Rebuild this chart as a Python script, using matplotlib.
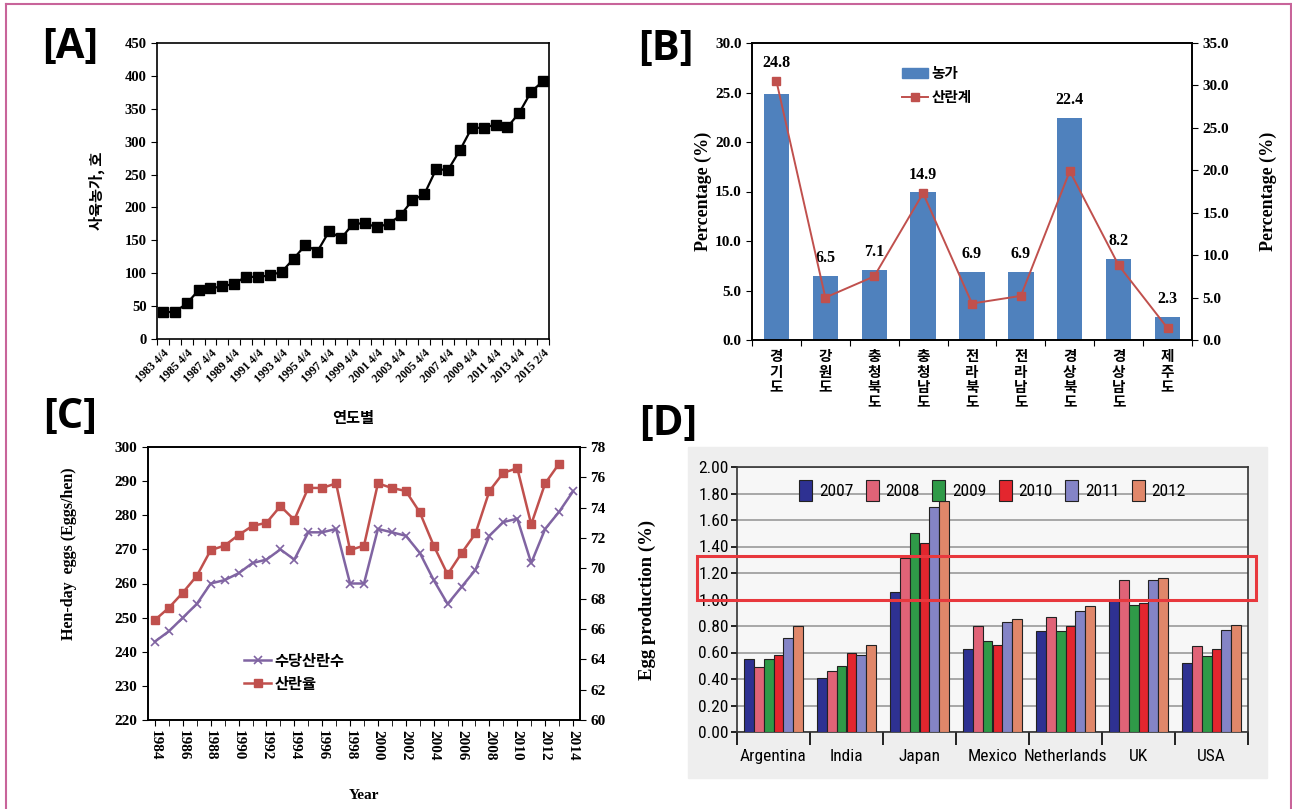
import matplotlib.pyplot as plt
import numpy as np
from matplotlib import font_manager
from matplotlib.patches import Rectangle, Patch
from matplotlib.lines import Line2D

plt.rcParams['font.family'] = ['Liberation Serif', 'Noto Sans CJK KR']
plt.rcParams['font.weight'] = 'bold'
plt.rcParams['axes.labelweight'] = 'bold'
plt.rcParams['axes.linewidth'] = 1.2

# ---- [A] number of farms by year
a_periods = [str(y) for y in range(1983, 2016)]
a_tick_labels = ['1983 4/4', '1985 4/4', '1987 4/4', '1989 4/4', '1991 4/4',
                 '1993 4/4', '1995 4/4', '1997 4/4', '1999 4/4', '2001 4/4',
                 '2003 4/4', '2005 4/4', '2007 4/4', '2009 4/4', '2011 4/4',
                 '2013 4/4', '2015 2/4']
a_farms = [41, 41, 54, 74, 77, 80, 84, 95, 94, 97, 102, 122, 143, 133, 164,
           153, 175, 176, 170, 175, 188, 211, 220, 258, 257, 287, 321, 321,
           326, 322, 344, 376, 392]

# ---- [B] share by province
b_regions = ['경기도', '강원도', '충청북도', '충청남도', '전라북도', '전라남도',
             '경상북도', '경상남도', '제주도']
b_farms_pct = [24.8, 6.5, 7.1, 14.9, 6.9, 6.9, 22.4, 8.2, 2.3]
b_hens_pct = [30.5, 5.0, 7.5, 17.3, 4.3, 5.2, 19.9, 8.8, 1.4]

# ---- [C] hen-day eggs and laying rate
c_years = list(range(1984, 2015))
c_hen_day_eggs = [243, 246, 250, 254, 260, 261, 263, 266, 267, 270, 267, 275,
                  275, 276, 260, 260, 276, 275, 274, 269, 261, 254, 259, 264,
                  274, 278, 279, 266, 276, 281, 287]
c_rate_years = list(range(1984, 2014))
c_laying_rate = [66.6, 67.4, 68.4, 69.5, 71.2, 71.5, 72.2, 72.8, 73.0, 74.1,
                 73.2, 75.3, 75.3, 75.6, 71.2, 71.5, 75.6, 75.3, 75.1, 73.7,
                 71.5, 69.6, 71.0, 72.3, 75.1, 76.3, 76.6, 72.9, 75.6, 76.9]

# ---- [D] egg production by country
d_countries = ['Argentina', 'India', 'Japan', 'Mexico', 'Netherlands', 'UK', 'USA']
d_years = ['2007', '2008', '2009', '2010', '2011', '2012']
d_2007 = [0.55, 0.41, 1.06, 0.63, 0.76, 1.00, 0.52]
d_2008 = [0.49, 0.46, 1.31, 0.80, 0.87, 1.15, 0.65]
d_2009 = [0.55, 0.50, 1.50, 0.69, 0.76, 0.96, 0.57]
d_2010 = [0.58, 0.60, 1.43, 0.66, 0.80, 0.97, 0.63]
d_2011 = [0.71, 0.58, 1.70, 0.83, 0.91, 1.15, 0.77]
d_2012 = [0.80, 0.66, 1.74, 0.85, 0.95, 1.16, 0.81]
d_colors = ['#2e3192', '#e06377', '#2f9a48', '#e3262e', '#8484c6', '#e0876a']

# narrow font for panel D, if one is around
_names = {f.name for f in font_manager.fontManager.ttflist}
narrow = next((n for n in ['Liberation Sans Narrow', 'Roboto Condensed',
                           'Open Sans Condensed', 'DejaVu Sans Condensed']
               if n in _names), 'Roboto')
cond = dict(family=[narrow, 'DejaVu Sans'], stretch='condensed', weight='normal')

W, H = 1292, 809
fig = plt.figure(figsize=(W / 100, H / 100), dpi=100)


def px_rect(x0, y0, x1, y1):
    # pixel box (top-left origin) -> figure fraction [l, b, w, h]
    return [x0 / W, 1 - y1 / H, (x1 - x0) / W, (y1 - y0) / H]


# outer pink frame
for xs, ys in [([5.5, 5.5], [4, H]), ([5.5, 1290.5], [4, 4]), ([1290.5, 1290.5], [4, H])]:
    fig.add_artist(Line2D([x / W for x in xs], [1 - y / H for y in ys],
                          color='#c8649a', lw=1.5))

label_font = dict(family=['Open Sans', 'DejaVu Sans'], fontsize=30, weight='bold')
fig.text(70 / W, 1 - 48 / H, '[A]', ha='center', va='center', **label_font)
fig.text(666 / W, 1 - 50 / H, '[B]', ha='center', va='center', **label_font)
fig.text(70 / W, 1 - 418 / H, '[C]', ha='center', va='center', **label_font)
fig.text(668 / W, 1 - 424 / H, '[D]', ha='center', va='center', **label_font)

# ================= [A]
axA = fig.add_axes(px_rect(157, 43, 549, 339))
xa = np.arange(len(a_farms))
axA.plot(xa, a_farms, color='black', lw=1.6, marker='s', ms=7)
axA.set_xlim(-0.5, len(a_farms) - 0.5)
axA.set_ylim(0, 450)
axA.set_yticks(np.arange(0, 451, 50))
axA.set_xticks(np.arange(-0.5, len(a_farms), 1.0))
axA.set_xticklabels([])
axA.set_xticks(xa[::2], minor=True)
axA.set_xticklabels(a_tick_labels, minor=True, rotation=45, ha='right',
                    rotation_mode='anchor', fontsize=8.5)
axA.tick_params(axis='x', which='minor', length=0, pad=6)
axA.tick_params(axis='x', which='major', direction='out', length=4)
axA.tick_params(axis='y', direction='out', length=4, labelsize=10.5)
axA.set_xlabel('연도별', fontsize=11, labelpad=18,
               family=['Noto Sans CJK KR'])
axA.set_ylabel('사육농가, 호', fontsize=11, labelpad=14,
               family=['Noto Sans CJK KR'])

# ================= [B]
axB = fig.add_axes(px_rect(752, 43, 1192, 340))
xb = np.arange(len(b_regions))
axB.bar(xb, b_farms_pct, width=0.52, color='#4f81bd', zorder=2)
for xi, v, h in zip(xb, b_farms_pct, b_hens_pct):
    top = max(v, h * 30 / 35)
    axB.text(xi, top + 1.8, f'{v:.1f}', ha='center', va='center', fontsize=11.5)
axB.set_xlim(-0.5, len(b_regions) - 0.5)
axB.set_ylim(0, 30)
axB.set_yticks(np.arange(0, 30.1, 5))
axB.set_yticklabels([f'{v:.1f}' for v in np.arange(0, 30.1, 5)])
axB.set_xticks(np.arange(-0.5, len(b_regions), 1.0))
axB.set_xticklabels([])
axB.set_xticks(xb, minor=True)
axB.set_xticklabels(['\n'.join(r) for r in b_regions], minor=True,
                    va='top', fontsize=10.5, linespacing=0.95,
                    family=['Noto Sans CJK KR'])
axB.tick_params(axis='x', which='minor', length=0, pad=6)
axB.tick_params(axis='x', which='major', direction='out', length=4)
axB.tick_params(axis='y', direction='out', length=4, labelsize=11)
axB.set_ylabel('Percentage (%)', fontsize=13, labelpad=2)
axB2 = axB.twinx()
axB2.plot(xb, b_hens_pct, color='#c0504d', lw=1.4, marker='s', ms=5.5)
axB2.set_ylim(0, 35)
axB2.set_yticks(np.arange(0, 35.1, 5))
axB2.set_yticklabels([f'{v:.1f}' for v in np.arange(0, 35.1, 5)])
axB2.tick_params(axis='y', direction='out', length=4, labelsize=11)
axB2.set_ylabel('Percentage (%)', fontsize=13, labelpad=22)
hB = [Patch(color='#4f81bd'),
      Line2D([], [], color='#c0504d', lw=1.4, marker='s', ms=5.5)]
axB.legend(hB, ['농가', '산란계'], loc='upper center', bbox_to_anchor=(0.42, 0.96),
           frameon=False, fontsize=10.5, handlelength=1.8, labelspacing=0.7,
           handletextpad=0.2)

# ================= [C]
axC = fig.add_axes(px_rect(148, 447, 580, 720))
axC.plot(c_years, c_hen_day_eggs, color='#8064a2', lw=1.8, marker='x', ms=6,
         mew=1.2, label='수당산란수')
axC.set_xlim(1983.5, 2014.5)
axC.set_ylim(220, 300)
axC.set_yticks(np.arange(220, 301, 10))
axC.set_xticks(c_years[::2])
axC.set_xticks(c_years, minor=True)
axC.set_xticklabels([str(y) for y in c_years[::2]], rotation=270, fontsize=11)
axC.tick_params(axis='x', which='both', direction='out', length=4)
axC.tick_params(axis='y', direction='out', length=4, labelsize=11)
axC.set_xlabel('Year', fontsize=11, labelpad=20)
axC.set_ylabel('Hen-day  eggs (Eggs/hen)', fontsize=11.5)
axC.yaxis.set_label_coords(-0.165, 0.61)
axC2 = axC.twinx()
axC2.plot(c_rate_years, c_laying_rate, color='#c0504d', lw=1.8, marker='s', ms=6,
          label='산란율')
axC2.set_ylim(60, 78)
axC2.set_yticks(np.arange(60, 78.1, 2))
axC2.tick_params(axis='y', direction='out', length=4, labelsize=11)
hC = [Line2D([], [], color='#8064a2', lw=1.8, marker='x', ms=6, mew=1.2),
      Line2D([], [], color='#c0504d', lw=1.8, marker='s', ms=6)]
axC.legend(hC, ['수당산란수', '산란율'], loc='upper left', bbox_to_anchor=(0.19, 0.29),
           frameon=False, fontsize=11, handlelength=1.8, labelspacing=0.6,
           handletextpad=0.2)

# ================= [D]
fig.add_artist(Rectangle((688 / W, 1 - 778 / H), 579 / W, 331 / H,
                         transform=fig.transFigure, color='#eeeeee', zorder=0))
axD = fig.add_axes(px_rect(737, 467, 1248, 732))
axD.set_facecolor('#f7f7f7')
xd = np.arange(len(d_countries))
bw = 0.133
d_series = [d_2007, d_2008, d_2009, d_2010, d_2011, d_2012]
for i, (vals, col, yr) in enumerate(zip(d_series, d_colors, d_years)):
    axD.bar(xd + (i - 2.5) * bw, vals, width=bw, color=col, edgecolor='#222222',
            linewidth=0.8, zorder=3, label=yr)
axD.set_xlim(-0.5, len(d_countries) - 0.5)
axD.set_ylim(0, 2.0)
axD.set_yticks(np.arange(0, 2.01, 0.2))
axD.set_yticklabels([f'{v:.2f}' for v in np.arange(0, 2.01, 0.2)],
                    fontsize=12.5, **cond)
axD.yaxis.grid(True, color='#9a9a9a', lw=1.2, zorder=0)
axD.set_axisbelow(True)
axD.set_xticks(np.arange(-0.5, len(d_countries), 1.0))
axD.set_xticklabels([])
axD.set_xticks(xd, minor=True)
axD.set_xticklabels(d_countries, minor=True, fontsize=12.5, **cond)
axD.tick_params(axis='x', which='minor', length=0, pad=12)
axD.tick_params(axis='x', which='major', direction='out', length=9, width=1.2)
axD.tick_params(axis='y', direction='out', length=4, width=1.2, pad=2)
for s in axD.spines.values():
    s.set_color('#333333')
axD.set_ylabel('Egg production (%)', fontsize=13.5, labelpad=30)
axD.legend(loc='upper center', bbox_to_anchor=(0.5, 1.01), ncol=6,
           frameon=False, handlelength=0.75, handleheight=1.5,
           columnspacing=0.7, handletextpad=0.4,
           prop=dict(size=12.5, **cond))
fig.add_artist(Rectangle((697 / W, 1 - 600 / H), 559 / W, 44 / H,
                         transform=fig.transFigure, fill=False,
                         edgecolor='#e8383d', lw=2.2, zorder=10))

fig.savefig('out.png', dpi=100, facecolor='white')
